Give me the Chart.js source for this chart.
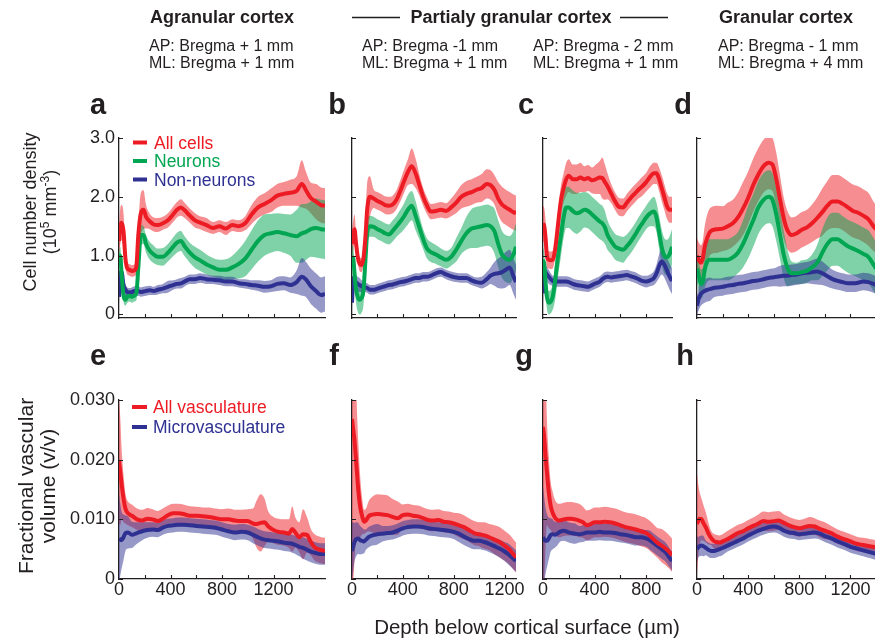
<!DOCTYPE html>
<html>
<head>
<meta charset="utf-8">
<script src="https://cdn.jsdelivr.net/npm/chart.js@4.4.1/dist/chart.umd.min.js"></script>
<style>
  html, body { margin: 0; padding: 0; background: #fff; width: 875px; height: 642px; overflow: hidden; position: relative; }
  canvas { position: absolute; }
  svg { position: absolute; left: 0; top: 0; z-index: 2; pointer-events: none; }
  svg text { font-family: "Liberation Sans", Arial, Helvetica, sans-serif; fill: #231f20; }
</style>
</head>
<body>
<svg width="875" height="642" xmlns="http://www.w3.org/2000/svg">
  <!-- column headers -->
  <text x="222" y="23" text-anchor="middle" font-size="18" font-weight="bold">Agranular cortex</text>
  <text x="511" y="23" text-anchor="middle" font-size="18" font-weight="bold">Partialy granular cortex</text>
  <line x1="352" y1="17.5" x2="400" y2="17.5" stroke="#231f20" stroke-width="1.5"/>
  <line x1="620" y1="17.5" x2="668" y2="17.5" stroke="#231f20" stroke-width="1.5"/>
  <text x="786" y="23" text-anchor="middle" font-size="18" font-weight="bold">Granular cortex</text>

  <text x="149" y="51" font-size="16">AP: Bregma + 1 mm</text>
  <text x="149" y="68" font-size="16">ML: Bregma + 1 mm</text>
  <text x="362" y="51" font-size="16">AP: Bregma -1 mm</text>
  <text x="362" y="68" font-size="16">ML: Bregma + 1 mm</text>
  <text x="533" y="51" font-size="16">AP: Bregma - 2 mm</text>
  <text x="533" y="68" font-size="16">ML: Bregma + 1 mm</text>
  <text x="718" y="51" font-size="16">AP: Bregma - 1 mm</text>
  <text x="718" y="68" font-size="16">ML: Bregma + 4 mm</text>

  <!-- panel letters -->
  <g font-size="29" font-weight="bold" text-anchor="middle">
    <text x="98" y="114">a</text>
    <text x="337" y="114">b</text>
    <text x="526" y="114">c</text>
    <text x="683" y="114">d</text>
    <text x="98" y="365">e</text>
    <text x="334" y="365">f</text>
    <text x="524" y="365">g</text>
    <text x="685" y="365">h</text>
  </g>

  <!-- axis titles -->
  <text transform="translate(36,212) rotate(-90)" text-anchor="middle" font-size="18">Cell number density</text>
  <text transform="translate(56,212) rotate(-90)" text-anchor="middle" font-size="18">(10<tspan dy="-7" font-size="12">5</tspan><tspan dy="7"> mm</tspan><tspan dy="-7" font-size="12">-3</tspan><tspan dy="7">)</tspan></text>
  <text transform="translate(33,486) rotate(-90)" text-anchor="middle" font-size="21">Fractional vascular</text>
  <text transform="translate(55,486) rotate(-90)" text-anchor="middle" font-size="21">volume (v/v)</text>
  <text x="527" y="634" text-anchor="middle" font-size="20.5">Depth below cortical surface (µm)</text>

  <!-- legends -->
  <line x1="133" y1="142.5" x2="147" y2="142.5" stroke="rgb(237,28,36)" stroke-width="4"/>
  <line x1="133" y1="161" x2="147" y2="161" stroke="rgb(0,166,81)" stroke-width="4"/>
  <line x1="133" y1="179.5" x2="147" y2="179.5" stroke="rgb(46,49,146)" stroke-width="4"/>
  <text x="154" y="148.5" font-size="17.5" style="fill:rgb(237,28,36)">All cells</text>
  <text x="154" y="167" font-size="17.5" style="fill:rgb(0,166,81)">Neurons</text>
  <text x="154" y="185.5" font-size="17.5" style="fill:rgb(46,49,146)">Non-neurons</text>

  <line x1="132" y1="407" x2="147" y2="407" stroke="rgb(237,28,36)" stroke-width="4"/>
  <line x1="132" y1="427" x2="147" y2="427" stroke="rgb(46,49,146)" stroke-width="4"/>
  <text x="153" y="413" font-size="17.5" style="fill:rgb(237,28,36)">All vasculature</text>
  <text x="153" y="433" font-size="17.5" style="fill:rgb(46,49,146)">Microvasculature</text>
</svg>

<script>
// ---------- tick values and labels ----------
const depthTicks = [0, 200, 400, 600, 800, 1000, 1200, 1400];
const depthLabels = [0, 400, 800, 1200];
const densityTicks = [0, 1, 2, 3];
const densityTickLabels = ['0', '1.0', '2.0', '3.0'];
const volumeTicks = [0, 0.01, 0.02, 0.03];
const volumeTickLabels = ['0', '0.010', '0.020', '0.030'];

// ---------- cell density (10^5 mm^-3), mean and spread ----------
// a: agranular cortex
const depthA = [0,10,20,35,50,65,80,100,120,135,150,170,190,210,240,270,300,340,380,420,450,480,510,550,590,630,680,730,780,830,880,930,980,1030,1080,1130,1180,1230,1280,1330,1380,1420,1450,1490,1530,1570,1600];
const allCellsA = [1.25,1.5,1.56,1.42,0.95, 0.78,0.76,0.74,0.75,0.82, 1.35,1.72,1.78,1.66,1.58, 1.53,1.52,1.55,1.6,1.7, 1.78,1.82,1.77,1.68,1.6, 1.56,1.52,1.47,1.5,1.46, 1.52,1.5,1.55,1.7,1.82, 1.88,1.94,2.02,2.05,2.07, 2.1,2.22,2.12,1.98,1.92, 1.86,1.85];
const allCellsSdA = [0.25,0.3,0.3,0.3,0.15, 0.1,0.1,0.1,0.1,0.12, 0.2,0.35,0.33,0.2,0.13, 0.12,0.12,0.11,0.12,0.13, 0.13,0.14,0.13,0.12,0.12, 0.11,0.12,0.1,0.1,0.11, 0.1,0.1,0.12,0.16,0.18, 0.18,0.2,0.2,0.2,0.22, 0.25,0.4,0.32,0.26,0.3, 0.3,0.3];
const neuronsA = [0.9,1.0,0.7,0.32,0.25, 0.3,0.32,0.3,0.32,0.36, 0.8,1.35,1.35,1.2,1.08, 1.02,0.98,0.98,1.05,1.15, 1.22,1.25,1.16,1.05,0.97, 0.92,0.85,0.8,0.76,0.76, 0.8,0.86,0.95,1.1,1.25, 1.35,1.38,1.4,1.38,1.35, 1.33,1.38,1.4,1.45,1.47, 1.45,1.44];
const neuronsSdA = [0.15,0.15,0.15,0.1,0.1, 0.1,0.1,0.1,0.1,0.12, 0.15,0.17,0.15,0.15,0.15, 0.15,0.14,0.15,0.15,0.16, 0.17,0.17,0.17,0.17,0.18, 0.18,0.17,0.16,0.17,0.18, 0.2,0.25,0.3,0.33,0.35, 0.35,0.33,0.32,0.33,0.35, 0.45,0.5,0.48,0.47,0.5, 0.5,0.5];
const nonNeuronsA = [0.3,0.7,0.72,0.5,0.42, 0.38,0.37,0.38,0.4,0.4, 0.4,0.38,0.39,0.4,0.41, 0.4,0.42,0.44,0.47,0.5, 0.52,0.53,0.56,0.6,0.6, 0.62,0.6,0.59,0.58,0.56, 0.56,0.53,0.52,0.5,0.49, 0.47,0.48,0.52,0.53,0.5, 0.55,0.64,0.6,0.48,0.4, 0.33,0.35];
const nonNeuronsSdA = [0.2,0.15,0.15,0.15,0.1, 0.08,0.08,0.08,0.08,0.08, 0.08,0.08,0.08,0.08,0.08, 0.07,0.08,0.08,0.1,0.08, 0.08,0.09,0.08,0.08,0.08, 0.08,0.08,0.07,0.08,0.08, 0.08,0.07,0.08,0.08,0.09, 0.1,0.1,0.12,0.12,0.13, 0.2,0.32,0.3,0.3,0.3, 0.3,0.3];

// b: partially granular cortex, AP -1 mm
const depthB = [0,10,20,30,45,60,75,90,105,120,140,170,200,230,260,290,320,350,380,410,440,470,500,530,560,590,620,660,700,740,780,820,860,900,940,980,1020,1060,1090,1120,1150,1180,1210,1240,1270,1290];
const allCellsB = [1.2,1.35,1.45,1.25,0.98, 0.86,0.84,0.95,1.3,1.8, 2.0,1.97,1.93,1.9,1.86, 1.85,1.87,1.95,2.1,2.27, 2.42,2.52,2.4,2.2,2.0, 1.85,1.75,1.76,1.78,1.76, 1.82,1.9,2.0,2.05,2.08, 2.12,2.15,2.22,2.2,2.12, 1.97,1.87,1.82,1.78,1.74, 1.72];
const allCellsSdB = [0.25,0.25,0.25,0.2,0.12, 0.12,0.12,0.12,0.3,0.45, 0.35,0.16,0.15,0.15,0.15, 0.15,0.15,0.16,0.18,0.2, 0.22,0.3,0.25,0.18,0.15, 0.14,0.13,0.13,0.13,0.13, 0.15,0.18,0.2,0.22,0.22, 0.22,0.24,0.25,0.25,0.25, 0.28,0.3,0.3,0.3,0.3, 0.3];
const neuronsB = [0.98,0.95,0.7,0.45,0.3, 0.25,0.28,0.4,0.9,1.4, 1.5,1.49,1.45,1.42,1.38, 1.36,1.42,1.5,1.58,1.67, 1.78,1.85,1.68,1.48,1.28, 1.12,1.06,1.02,0.97,0.93, 0.98,1.1,1.25,1.38,1.46, 1.48,1.5,1.52,1.5,1.42, 1.2,1.02,0.95,0.93,1.02, 1.15];
const neuronsSdB = [0.2,0.2,0.2,0.22,0.25, 0.25,0.25,0.25,0.3,0.25, 0.18,0.17,0.17,0.17,0.17, 0.17,0.18,0.18,0.2,0.22, 0.25,0.25,0.25,0.2,0.17, 0.17,0.17,0.16,0.15,0.15, 0.15,0.2,0.22,0.28,0.33, 0.35,0.35,0.35,0.35,0.38, 0.4,0.4,0.4,0.4,0.4, 0.4];
const nonNeuronsB = [0.2,0.62,0.58,0.55,0.52, 0.5,0.48,0.47,0.46,0.45, 0.42,0.42,0.44,0.46,0.48, 0.5,0.51,0.53,0.55,0.56, 0.58,0.6,0.62,0.62,0.64, 0.64,0.66,0.7,0.72,0.68, 0.65,0.63,0.62,0.62,0.58, 0.55,0.54,0.6,0.66,0.69, 0.7,0.72,0.76,0.8,0.65, 0.55];
const nonNeuronsSdB = [0.2,0.12,0.12,0.12,0.12, 0.12,0.1,0.08,0.08,0.08, 0.08,0.08,0.08,0.08,0.08, 0.08,0.08,0.08,0.08,0.08, 0.08,0.08,0.08,0.08,0.08, 0.08,0.08,0.08,0.08,0.08, 0.08,0.08,0.08,0.08,0.08, 0.08,0.1,0.12,0.14,0.2, 0.25,0.28,0.3,0.3,0.3, 0.3];

// c: partially granular cortex, AP -2 mm
const depthC = [0,10,20,30,45,60,75,90,105,120,140,160,180,200,230,260,290,320,350,380,410,440,460,480,500,530,560,590,620,650,680,710,740,770,800,830,860,880,900,920,940,960,980,1000];
const allCellsC = [1.55,1.5,1.3,1.0,0.93, 0.92,0.93,1.05,1.3,1.6, 1.95,2.15,2.3,2.36,2.3, 2.3,2.33,2.3,2.32,2.28, 2.3,2.33,2.32,2.25,2.18, 2.05,1.92,1.83,1.82,1.9, 1.98,2.05,2.12,2.18,2.25, 2.34,2.4,2.4,2.3,2.15, 2.0,1.85,1.78,1.78];
const allCellsSdC = [0.3,0.3,0.3,0.2,0.15, 0.15,0.15,0.15,0.2,0.25, 0.25,0.25,0.28,0.28,0.25, 0.25,0.25,0.22,0.22,0.22, 0.25,0.28,0.35,0.3,0.22, 0.16,0.15,0.15,0.15,0.15, 0.15,0.15,0.15,0.16,0.16, 0.18,0.18,0.18,0.2,0.22, 0.22,0.22,0.22,0.22];
const neuronsC = [0.93,0.85,0.55,0.3,0.2, 0.22,0.3,0.5,0.78,1.05, 1.35,1.65,1.82,1.82,1.76, 1.72,1.74,1.78,1.76,1.7, 1.64,1.58,1.55,1.48,1.35, 1.24,1.15,1.12,1.1,1.16, 1.24,1.34,1.45,1.55,1.65, 1.72,1.75,1.65,1.4,1.15, 1.0,0.97,1.02,1.15];
const neuronsSdC = [0.2,0.2,0.2,0.2,0.2, 0.2,0.22,0.3,0.35,0.35, 0.35,0.35,0.35,0.35,0.35, 0.35,0.33,0.3,0.3,0.3, 0.3,0.3,0.3,0.28,0.25, 0.22,0.22,0.22,0.22,0.2, 0.2,0.2,0.2,0.2,0.2, 0.22,0.25,0.25,0.28,0.3, 0.3,0.3,0.3,0.3];
const nonNeuronsC = [0.36,0.7,0.72,0.68,0.64, 0.6,0.57,0.56,0.56,0.56, 0.56,0.56,0.56,0.55,0.52, 0.5,0.49,0.48,0.47,0.5, 0.53,0.56,0.6,0.63,0.64, 0.63,0.64,0.65,0.66,0.67, 0.65,0.63,0.6,0.57,0.56, 0.58,0.62,0.7,0.82,0.9, 0.85,0.75,0.65,0.57];
const nonNeuronsSdC = [0.2,0.12,0.12,0.12,0.12, 0.1,0.09,0.09,0.09,0.09, 0.09,0.09,0.09,0.09,0.09, 0.09,0.09,0.09,0.09,0.09, 0.09,0.09,0.09,0.09,0.09, 0.09,0.09,0.09,0.09,0.09, 0.09,0.09,0.09,0.09,0.1, 0.1,0.12,0.15,0.2,0.22, 0.22,0.22,0.22,0.22];

// d: granular cortex
const depthD = [0,15,30,45,60,80,100,130,160,200,240,280,320,360,400,440,480,520,560,590,620,650,680,710,740,780,820,860,900,940,980,1020,1060,1100,1140,1180,1220,1260,1300,1340,1380,1400];
const allCellsD = [1.0,0.92,0.88,0.95,1.15, 1.3,1.4,1.44,1.45,1.46, 1.5,1.55,1.65,1.8,1.98, 2.2,2.38,2.52,2.58,2.55, 2.3,1.95,1.62,1.42,1.35, 1.38,1.44,1.48,1.55,1.64, 1.74,1.85,1.92,1.92,1.88, 1.82,1.76,1.73,1.68,1.62, 1.5,1.45];
const allCellsSdD = [0.3,0.3,0.3,0.3,0.35, 0.4,0.4,0.4,0.4,0.38, 0.4,0.4,0.42,0.45,0.45, 0.45,0.45,0.45,0.45,0.45, 0.45,0.4,0.35,0.32,0.3, 0.3,0.3,0.3,0.32,0.35, 0.4,0.42,0.45,0.45,0.45, 0.45,0.45,0.45,0.45,0.45, 0.42,0.4];
const neuronsD = [0.78,0.65,0.52,0.55,0.75, 0.9,0.93,0.93,0.93,0.93, 0.93,0.97,1.05,1.2,1.4, 1.6,1.82,1.95,2.0,1.95, 1.7,1.35,1.0,0.78,0.7, 0.7,0.72,0.74,0.8,0.88, 1.05,1.2,1.28,1.28,1.22, 1.16,1.12,1.08,1.03,0.98, 0.85,0.78];
const neuronsSdD = [0.25,0.25,0.25,0.25,0.3, 0.35,0.35,0.35,0.35,0.35, 0.35,0.35,0.35,0.4,0.45, 0.45,0.45,0.45,0.45,0.45, 0.45,0.42,0.4,0.3,0.2, 0.18,0.2,0.2,0.22,0.3, 0.4,0.45,0.45,0.45,0.45, 0.45,0.45,0.45,0.45,0.45, 0.45,0.45];
const nonNeuronsD = [0.15,0.28,0.35,0.38,0.4, 0.42,0.43,0.45,0.46,0.47, 0.49,0.5,0.52,0.53,0.55, 0.57,0.58,0.6,0.62,0.63, 0.64,0.65,0.66,0.66,0.67, 0.68,0.7,0.71,0.72,0.73, 0.7,0.65,0.6,0.57,0.55, 0.53,0.53,0.54,0.56,0.55, 0.52,0.5];
const nonNeuronsSdD = [0.15,0.2,0.2,0.2,0.2, 0.2,0.2,0.16,0.15,0.15, 0.15,0.15,0.15,0.15,0.15, 0.15,0.15,0.15,0.15,0.15, 0.16,0.18,0.18,0.18,0.18, 0.18,0.18,0.18,0.2,0.22, 0.2,0.18,0.16,0.15,0.15, 0.15,0.15,0.15,0.15,0.15, 0.15,0.15];

// ---------- fractional vascular volume (v/v), mean and spread ----------
const depthE = [0,10,20,35,50,70,100,140,180,220,260,300,340,380,420,460,500,550,600,650,700,750,800,850,900,950,1000,1040,1070,1100,1130,1160,1200,1240,1280,1320,1345,1370,1400,1430,1460,1490,1520,1560,1600];
const allVascE = [0.0198,0.018,0.016,0.0135,0.0118, 0.011,0.0106,0.01,0.0098,0.0101, 0.01,0.0097,0.0101,0.0107,0.011, 0.011,0.0109,0.0106,0.0106,0.0105, 0.0104,0.0102,0.01,0.01,0.0098, 0.0097,0.0097,0.0093,0.0092,0.0094, 0.0095,0.0088,0.0082,0.0079,0.0078, 0.0076,0.0084,0.0078,0.007,0.0075, 0.0074,0.0062,0.0053,0.0049,0.0047];
const allVascSdE = [0.0105,0.009,0.006,0.004,0.0025, 0.002,0.0019,0.0018,0.0018,0.0018, 0.0017,0.0017,0.0017,0.0016,0.0016, 0.0016,0.0016,0.0016,0.0015,0.0015, 0.0016,0.0016,0.0017,0.0018,0.0018, 0.0019,0.002,0.0025,0.004,0.0048, 0.004,0.0025,0.0022,0.0022,0.0022, 0.0024,0.0038,0.0025,0.0025,0.0042, 0.003,0.0022,0.0022,0.0022,0.0022];
const microVascE = [0.0068,0.0066,0.0065,0.007,0.0077, 0.0078,0.0074,0.0077,0.008,0.0082, 0.0083,0.0082,0.0086,0.0089,0.009, 0.0091,0.0091,0.009,0.0089,0.0088, 0.0087,0.0086,0.0083,0.008,0.0078, 0.0079,0.0078,0.0074,0.0071,0.0068, 0.0066,0.0065,0.0064,0.0063,0.0061, 0.006,0.0059,0.0057,0.0054,0.0052, 0.0049,0.0046,0.0044,0.0042,0.0042];
const microVascSdE = [0.0075,0.006,0.0048,0.0038,0.003, 0.0027,0.0022,0.0018,0.0015,0.0013, 0.0012,0.0012,0.0012,0.0012,0.0012, 0.0012,0.0012,0.0012,0.0012,0.0012, 0.0012,0.0012,0.0012,0.0012,0.0013, 0.0013,0.0013,0.0014,0.0014,0.0014, 0.0014,0.0014,0.0014,0.0014,0.0014, 0.0014,0.0015,0.0015,0.0016,0.0018, 0.0018,0.0018,0.0018,0.0018,0.0018];

const depthF = [0,10,20,35,50,65,80,95,110,130,160,200,240,280,320,360,400,440,480,520,560,600,640,680,720,760,800,840,880,920,960,1000,1040,1080,1120,1160,1200,1240,1270,1290];
const allVascF = [0.0268,0.025,0.0232,0.019,0.0148, 0.012,0.0105,0.0096,0.0098,0.0105, 0.0108,0.0109,0.0108,0.0107,0.0104, 0.0102,0.0107,0.0108,0.0106,0.0105, 0.0102,0.0099,0.0098,0.0099,0.0096, 0.0095,0.0093,0.009,0.0087,0.0082, 0.0077,0.0075,0.0073,0.007,0.0066, 0.0062,0.0056,0.0049,0.0041,0.0036];
const allVascSdF = [0.027,0.025,0.02,0.012,0.008, 0.005,0.003,0.002,0.002,0.0025, 0.003,0.0033,0.0033,0.0033,0.003, 0.0028,0.0018,0.0018,0.0018,0.0018, 0.0018,0.0018,0.0018,0.0018,0.0018, 0.0018,0.0018,0.002,0.002,0.002, 0.002,0.002,0.0022,0.0022,0.0024, 0.0025,0.0025,0.0025,0.0025,0.0025];
const microVascF = [0.0047,0.0055,0.0062,0.0067,0.0068, 0.0065,0.0064,0.0063,0.0066,0.007, 0.0073,0.0075,0.0076,0.0077,0.0078, 0.0081,0.0085,0.0087,0.0088,0.0088, 0.0087,0.0085,0.0084,0.0083,0.0082, 0.0081,0.0079,0.0076,0.0071,0.0067, 0.0064,0.0064,0.0062,0.0059,0.0055, 0.0051,0.0046,0.004,0.0034,0.003];
const microVascSdF = [0.0048,0.004,0.0032,0.0028,0.0026, 0.0024,0.0022,0.002,0.0017,0.0017, 0.0017,0.0017,0.0013,0.0012,0.0012, 0.0012,0.0012,0.0012,0.0012,0.0012, 0.0012,0.0012,0.0012,0.0012,0.0012, 0.0012,0.0012,0.0014,0.0014,0.0014, 0.0014,0.0014,0.0014,0.0014,0.0014, 0.0015,0.0016,0.0018,0.0018,0.0018];

const depthG = [0,10,20,30,45,60,75,90,110,130,160,190,220,250,280,310,340,370,400,440,480,520,560,600,640,680,720,760,800,830,860,890,920,950,980,1000];
const allVascG = [0.0255,0.0235,0.0205,0.018,0.0145, 0.0122,0.0111,0.0104,0.0099,0.0098, 0.01,0.0101,0.0101,0.01,0.0098, 0.0095,0.009,0.0092,0.0095,0.0095, 0.0096,0.0095,0.0093,0.009,0.0087, 0.0085,0.0083,0.008,0.0077,0.0072, 0.0066,0.006,0.0056,0.0051,0.0045, 0.004];
const allVascSdG = [0.0255,0.0235,0.015,0.009,0.006, 0.004,0.0035,0.003,0.0028,0.0028, 0.0028,0.0028,0.0028,0.0028,0.0028, 0.0026,0.0025,0.0025,0.0025,0.0025, 0.0025,0.0025,0.0025,0.0025,0.0025, 0.0025,0.0025,0.0025,0.0025,0.0025, 0.0025,0.0025,0.0028,0.0028,0.0028, 0.0028];
const microVascG = [0.007,0.0066,0.0064,0.0064,0.0068, 0.0074,0.0075,0.0074,0.0076,0.0079, 0.0081,0.0079,0.0077,0.0076,0.0075, 0.0076,0.0078,0.0078,0.0078,0.0079, 0.0078,0.0078,0.0077,0.0075,0.0074, 0.0072,0.007,0.007,0.0068,0.0065, 0.006,0.0055,0.005,0.0045,0.0036, 0.003];
const microVascSdG = [0.0085,0.007,0.0055,0.0045,0.0035, 0.0028,0.0025,0.0022,0.002,0.0017, 0.0017,0.0017,0.0017,0.0017,0.0014, 0.0014,0.0014,0.0014,0.0014,0.0014, 0.0014,0.0014,0.0014,0.0014,0.0014, 0.0014,0.0014,0.0014,0.0014,0.0016, 0.0016,0.0016,0.0016,0.0016,0.0016, 0.0016];

const depthH = [0,10,20,35,50,70,90,110,130,150,175,200,240,280,320,360,400,440,480,520,560,600,640,680,720,760,800,840,880,920,960,1000,1050,1100,1150,1200,1250,1300,1350,1400];
const allVascH = [0.0092,0.0098,0.0101,0.01,0.0094, 0.0086,0.0076,0.0069,0.0064,0.0062, 0.0061,0.0063,0.0067,0.0072,0.0077, 0.008,0.0085,0.0089,0.0093,0.0097, 0.0096,0.0097,0.0098,0.0094,0.009, 0.0087,0.0085,0.0087,0.0089,0.0088, 0.0084,0.0081,0.0077,0.0071,0.0067, 0.0063,0.0059,0.0057,0.0055,0.0053];
const allVascSdH = [0.0085,0.006,0.0045,0.0035,0.003, 0.0025,0.0018,0.0012,0.0012,0.0012, 0.0012,0.0012,0.0014,0.0014,0.0014, 0.0014,0.0014,0.0014,0.0015,0.0016, 0.0016,0.0016,0.0016,0.0014,0.0014, 0.0014,0.0014,0.0014,0.0015,0.0014, 0.0014,0.0014,0.0012,0.0012,0.0012, 0.0012,0.0012,0.0012,0.0012,0.0012];
const microVascH = [0.005,0.0053,0.0055,0.0056,0.0055, 0.0052,0.0049,0.0047,0.0047,0.0048, 0.005,0.0052,0.0056,0.006,0.0064, 0.0068,0.0073,0.0077,0.0081,0.0084, 0.0087,0.0088,0.0086,0.0081,0.0078, 0.0077,0.0075,0.0076,0.0077,0.0078, 0.0076,0.0072,0.0068,0.0063,0.0059, 0.0054,0.0051,0.0048,0.0045,0.0042];
const microVascSdH = [0.0022,0.0017,0.0017,0.0017,0.0017, 0.0012,0.0012,0.0012,0.0012,0.0012, 0.0012,0.0012,0.001,0.001,0.001, 0.001,0.001,0.001,0.001,0.001, 0.001,0.001,0.001,0.001,0.001, 0.001,0.001,0.001,0.001,0.001, 0.001,0.001,0.001,0.001,0.001, 0.001,0.001,0.001,0.001,0.001];

// ---------- styling ----------
const RED = { line: 'rgb(237,28,36)', band: 'rgba(237,28,36,0.5)' };
const GREEN = { line: 'rgb(0,166,81)', band: 'rgba(0,166,81,0.5)' };
const BLUE = { line: 'rgb(46,49,146)', band: 'rgba(46,49,146,0.5)' };
const AXIS = '#231f20';
const FONT = '"Liberation Sans", Arial, Helvetica, sans-serif';

Chart.defaults.font.family = FONT;
Chart.defaults.color = AXIS;

// Short tick marks pointing into the plot area.
const innerTicks = {
  id: 'innerTicks',
  afterDraw(chart) {
    const { ctx, chartArea: a, scales: { x, y } } = chart;
    ctx.save();
    ctx.strokeStyle = AXIS;
    ctx.lineWidth = 1.1;
    ctx.beginPath();
    x.ticks.forEach(t => {
      if (t.value <= x.min) return;
      const px = Math.round(x.getPixelForValue(t.value)) + 0.5;
      ctx.moveTo(px, a.bottom); ctx.lineTo(px, a.bottom - 4);
    });
    y.ticks.forEach(t => {
      const py = Math.round(y.getPixelForValue(t.value)) + 0.5;
      ctx.moveTo(a.left, py); ctx.lineTo(a.left + 4, py);
    });
    ctx.stroke();
    ctx.restore();
  }
};

function meanDataset(depth, mean, color) {
  return {
    data: depth.map((x, i) => ({ x, y: mean[i] })),
    borderColor: color.line, borderWidth: 4, pointRadius: 0, fill: false,
    cubicInterpolationMode: 'monotone', borderJoinStyle: 'round'
  };
}
function bandDatasets(depth, mean, sd, color) {
  const common = { pointRadius: 0, borderWidth: 0, borderColor: 'rgba(0,0,0,0)', cubicInterpolationMode: 'monotone' };
  return [
    Object.assign({ data: depth.map((x, i) => ({ x, y: mean[i] + sd[i] })), fill: '+1', backgroundColor: color.band }, common),
    Object.assign({ data: depth.map((x, i) => ({ x, y: mean[i] - sd[i] })), fill: false }, common)
  ];
}

// geometry of a panel's plotting area on the page
function panel(cfg) {
  const PT = 16, RP = 30;
  const yw = cfg.yLabels ? 60 : 8;
  const xh = cfg.bottomRow ? 34 : 16;
  const w = yw + (cfg.right - cfg.left) + RP;
  const h = PT + (cfg.bottom - cfg.top) + xh;
  const cv = document.createElement('canvas');
  cv.width = w; cv.height = h;
  cv.style.left = (cfg.left - yw) + 'px';
  cv.style.top = (cfg.top - PT) + 'px';
  cv.style.width = w + 'px'; cv.style.height = h + 'px';
  document.body.appendChild(cv);

  // mean lines first (drawn last, on top); envelopes listed in reverse so the
  // first series' envelope is painted first and later ones overlay it
  const datasets = [];
  cfg.series.forEach(s => datasets.push(meanDataset(cfg.depth, s.mean, s.color)));
  cfg.series.slice().reverse().forEach(s => datasets.push(...bandDatasets(cfg.depth, s.mean, s.sd, s.color)));

  const xTicks = depthTicks.filter(v => v < cfg.xMax);
  new Chart(cv, {
    type: 'line',
    data: { datasets },
    options: {
      responsive: false, animation: false, events: [], devicePixelRatio: 1,
      layout: { padding: { left: 0, right: RP, top: PT, bottom: 0 } },
      plugins: {
        legend: { display: false }, tooltip: { enabled: false },
        filler: { drawTime: 'beforeDatasetsDraw', propagate: false }
      },
      scales: {
        x: {
          type: 'linear', min: 0, max: cfg.xMax,
          grid: { display: false, drawTicks: false },
          border: { display: true, color: AXIS, width: 1.3 },
          afterBuildTicks: s => { s.ticks = xTicks.map(v => ({ value: v })); },
          afterFit: s => { s.height = xh; },
          ticks: {
            display: !!cfg.bottomRow, autoSkip: false, maxRotation: 0, padding: 0,
            font: { size: 18 }, color: AXIS,
            callback: v => depthLabels.includes(v) ? String(v) : ''
          }
        },
        y: {
          type: 'linear', min: cfg.yMin, max: cfg.yMax,
          grid: { display: false, drawTicks: false },
          border: { display: true, color: AXIS, width: 1.3 },
          afterBuildTicks: s => { s.ticks = cfg.yTicks.map(v => ({ value: v })); },
          afterFit: s => { s.width = yw; },
          ticks: {
            display: !!cfg.yLabels, padding: 4, font: { size: 18 }, color: AXIS,
            callback: v => { const i = cfg.yTicks.indexOf(v); return i >= 0 ? cfg.yTickLabels[i] : ''; }
          }
        }
      }
    },
    plugins: [innerTicks]
  });
}

const topRow = { top: 138, bottom: 318, yMin: -0.06, yMax: 3, yTicks: densityTicks, yTickLabels: densityTickLabels };
const botRow = { top: 400, bottom: 579, yMin: 0, yMax: 0.03, yTicks: volumeTicks, yTickLabels: volumeTickLabels, bottomRow: true };

panel(Object.assign({}, topRow, { left: 119, right: 325, xMax: 1600, yLabels: true, depth: depthA,
  series: [{ mean: allCellsA, sd: allCellsSdA, color: RED }, { mean: neuronsA, sd: neuronsSdA, color: GREEN }, { mean: nonNeuronsA, sd: nonNeuronsSdA, color: BLUE }] }));
panel(Object.assign({}, topRow, { left: 352, right: 516, xMax: 1290, depth: depthB,
  series: [{ mean: allCellsB, sd: allCellsSdB, color: RED }, { mean: neuronsB, sd: neuronsSdB, color: GREEN }, { mean: nonNeuronsB, sd: nonNeuronsSdB, color: BLUE }] }));
panel(Object.assign({}, topRow, { left: 543, right: 672, xMax: 1000, depth: depthC,
  series: [{ mean: allCellsC, sd: allCellsSdC, color: RED }, { mean: neuronsC, sd: neuronsSdC, color: GREEN }, { mean: nonNeuronsC, sd: nonNeuronsSdC, color: BLUE }] }));
panel(Object.assign({}, topRow, { left: 697, right: 876, xMax: 1400, depth: depthD,
  series: [{ mean: allCellsD, sd: allCellsSdD, color: RED }, { mean: neuronsD, sd: neuronsSdD, color: GREEN }, { mean: nonNeuronsD, sd: nonNeuronsSdD, color: BLUE }] }));

panel(Object.assign({}, botRow, { left: 119, right: 325, xMax: 1600, yLabels: true, depth: depthE,
  series: [{ mean: allVascE, sd: allVascSdE, color: RED }, { mean: microVascE, sd: microVascSdE, color: BLUE }] }));
panel(Object.assign({}, botRow, { left: 352, right: 516, xMax: 1290, depth: depthF,
  series: [{ mean: allVascF, sd: allVascSdF, color: RED }, { mean: microVascF, sd: microVascSdF, color: BLUE }] }));
panel(Object.assign({}, botRow, { left: 543, right: 672, xMax: 1000, depth: depthG,
  series: [{ mean: allVascG, sd: allVascSdG, color: RED }, { mean: microVascG, sd: microVascSdG, color: BLUE }] }));
panel(Object.assign({}, botRow, { left: 697, right: 876, xMax: 1400, depth: depthH,
  series: [{ mean: allVascH, sd: allVascSdH, color: RED }, { mean: microVascH, sd: microVascSdH, color: BLUE }] }));
</script>
</body>
</html>
